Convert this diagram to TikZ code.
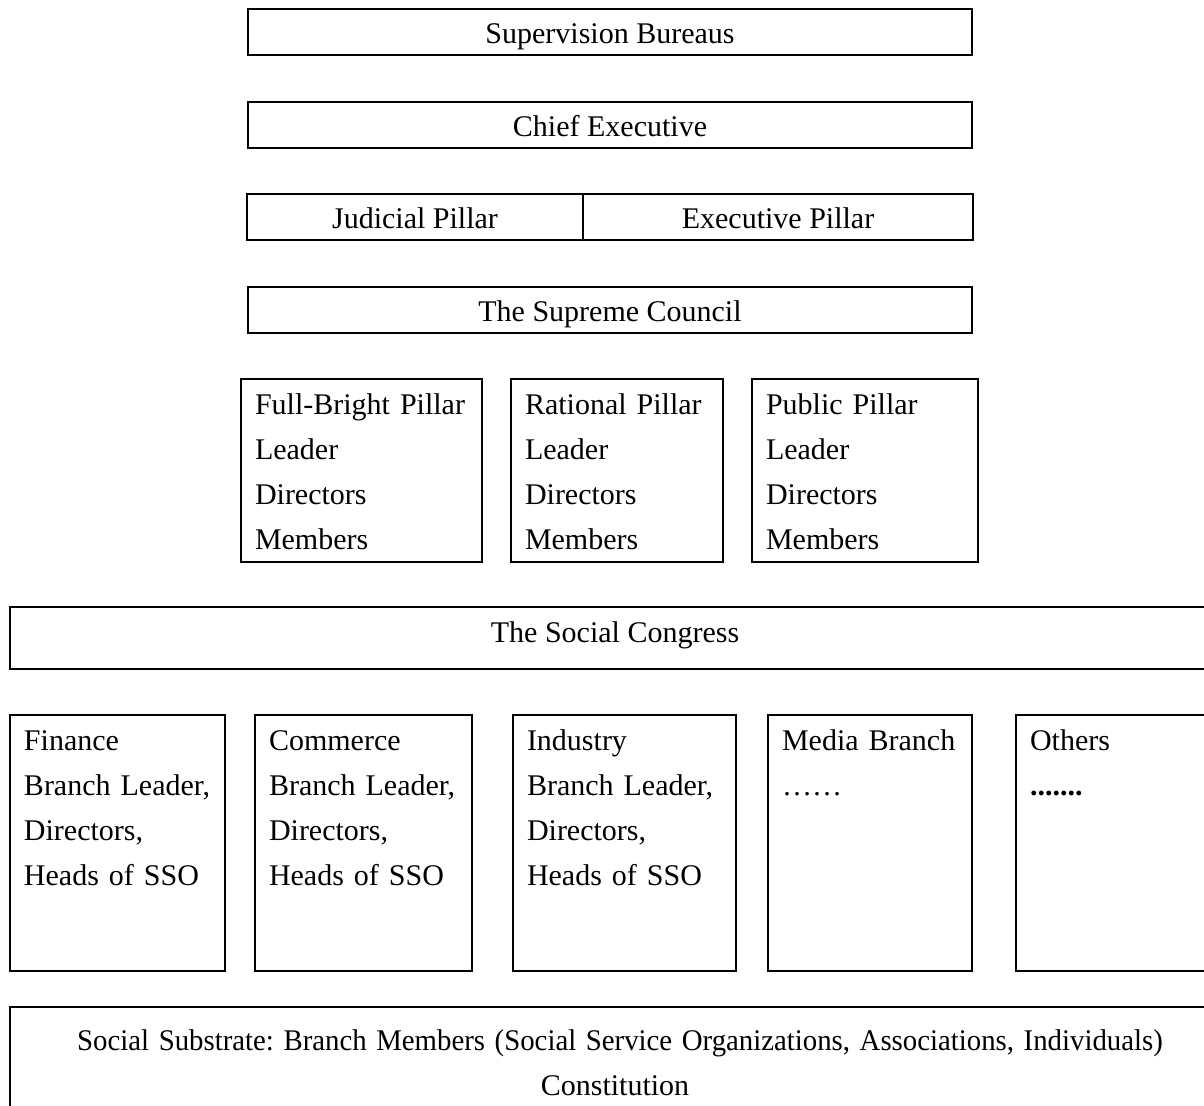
\documentclass[tikz,border=0pt]{standalone}
\usepackage{fontspec}
\setmainfont{Liberation Serif}
\frenchspacing
\usetikzlibrary{positioning}
\tikzset{
  org/.style={x=0.5pt, y=-0.5pt, every node/.style={draw, line width=1pt, rectangle, anchor=north west,
              inner xsep=7pt, inner ysep=0pt, outer sep=0pt, font=\fontsize{15}{22.5}\selectfont}},
  bar/.style={minimum width=#1, text height=17pt, text depth=6pt},
  lst/.style={minimum width=#1, text width=#1-14pt, align=left, text height=17.5pt},
  pil/.style={lst=#1, text depth=74pt},
  brn/.style={lst=#1, text depth=110.5pt}
}

\begin{document}
\begin{tikzpicture}[org]
\clip (0,0) rectangle (1204,1105);
% upper part
\node[bar=362pt] (sup) at (248,9) {Supervision Bureaus};
\node[bar=362pt] (chief) at (248,102) {Chief Executive};
\node[bar=168pt] (jud) at (247,194) {Judicial Pillar};
\node[bar=195pt, right=0pt of jud] (exe) {Executive Pillar};
\node[bar=362pt] (council) at (248,287) {The Supreme Council};
% pillars
\node[pil=120.5pt] (fb) at (241,379) {Full-Bright Pillar\\Leader\\Directors\\Members};
\node[pil=106pt] (rat) at (511,379) {Rational Pillar\\Leader\\Directors\\Members};
\node[pil=113pt] (pub) at (752,379) {Public Pillar\\Leader\\Directors\\Members};
\node[minimum width=605pt, text height=17.5pt, text depth=13.5pt] (cong) at (10,607) {The Social Congress};
% branches
\node[brn=107.5pt] (fin) at (10,715) {Finance\\Branch Leader,\\Directors,\\Heads of SSO};
\node[brn=108.5pt] (com) at (255,715) {Commerce\\Branch Leader,\\Directors,\\Heads of SSO};
\node[brn=111.5pt] (ind) at (513,715) {Industry\\Branch Leader,\\Directors,\\Heads of SSO};
\node[brn=102pt] (med) at (768,715) {Media Branch\\……};
\node[brn=100pt] (oth) at (1016,715) {Others\\\textbf{.......}};
\node[minimum width=605pt, text width=591pt, align=center, text height=21.5pt, text depth=53.5pt] (sub) at (10,1007)
  {\hspace*{5pt}\scalebox{0.96}[1]{Social Substrate: Branch Members (Social Service Organizations, Associations, Individuals)}\\Constitution};
\end{tikzpicture}
\end{document}
